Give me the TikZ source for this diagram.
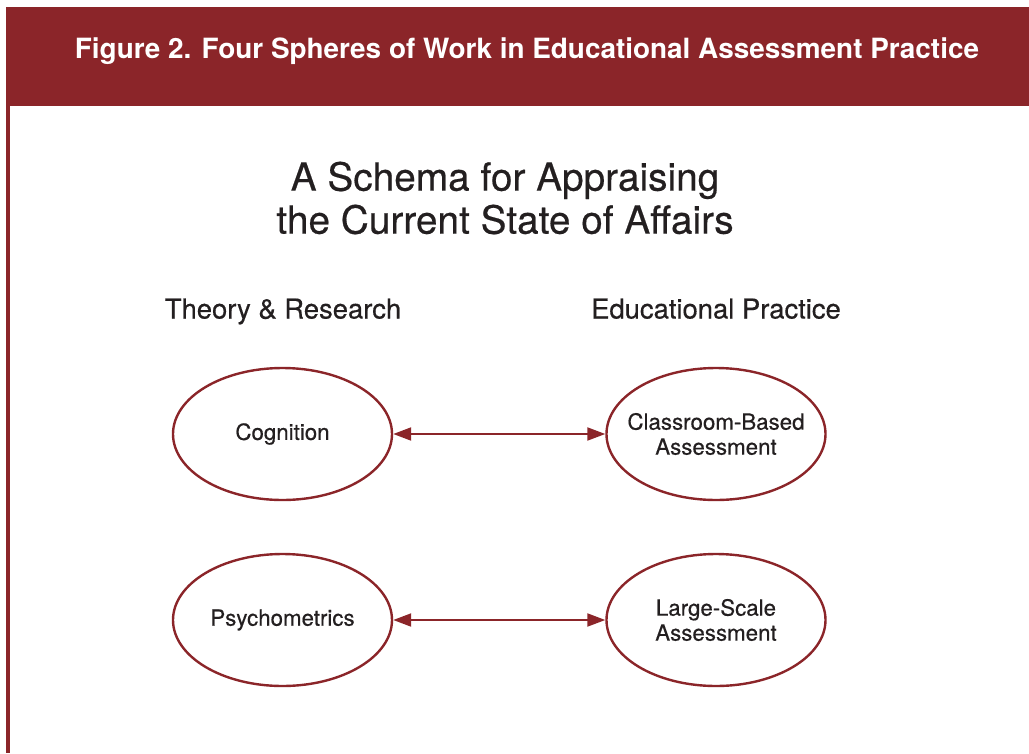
\documentclass[tikz,border=0pt]{standalone}
\usepackage{fontspec}
\setmainfont{TeX Gyre Heros}
\newfontfamily\medium[FakeBold=0.45]{TeX Gyre Heros}
\usetikzlibrary{arrows.meta,shapes.geometric}
\definecolor{maroon}{HTML}{8B2529}
\definecolor{ink}{HTML}{231F20}
\begin{document}
\begin{tikzpicture}[x=1pt,y=-1pt,
  sphere/.style={ellipse, draw=maroon, line width=2.4pt, minimum width=219pt,
    minimum height=132pt, inner xsep=-30pt, inner ysep=-10pt, align=center, text=ink,
    font=\medium\fontsize{22.3}{25}\selectfont},
  heading/.style={anchor=base, text=ink, font=\medium\fontsize{27.4}{32}\selectfont},
  link/.style={draw=maroon, line width=2pt,
    {Triangle[length=18pt,width=13pt]}-{Triangle[length=18pt,width=13pt]}}]
  \useasboundingbox (0,0) rectangle (1029,753);
  % banner and left rule
  \fill[maroon] (6,7) rectangle (1029,106);
  \fill[maroon] (6,106) rectangle (9.5,753);
  \node[text=white, font=\bfseries\fontsize{27.9}{32}\selectfont] (banner) at (527,51)
    {Figure 2. Four Spheres of Work in Educational Assessment Practice};
  % title
  \node[text=ink, align=center, font=\medium\fontsize{38.8}{43}\selectfont] (title) at (505,198)
    {A Schema for Appraising\\the Current State of Affairs};
  % column headings
  \node[heading] (theory) at (283,318.5) {Theory \& Research};
  \node[heading] (practice) at (716,318.5) {Educational Practice};
  % spheres
  \node[sphere] (cog) at (282.5,434) {Cognition};
  \node[sphere] (cls) at (716,434) {Classroom-Based\\Assessment};
  \node[sphere] (psy) at (282.5,620) {Psychometrics};
  \node[sphere] (lsa) at (716,620) {Large-Scale\\Assessment};
  % links
  \draw[link] (cog) -- (cls);
  \draw[link] (psy) -- (lsa);
\end{tikzpicture}
\end{document}
